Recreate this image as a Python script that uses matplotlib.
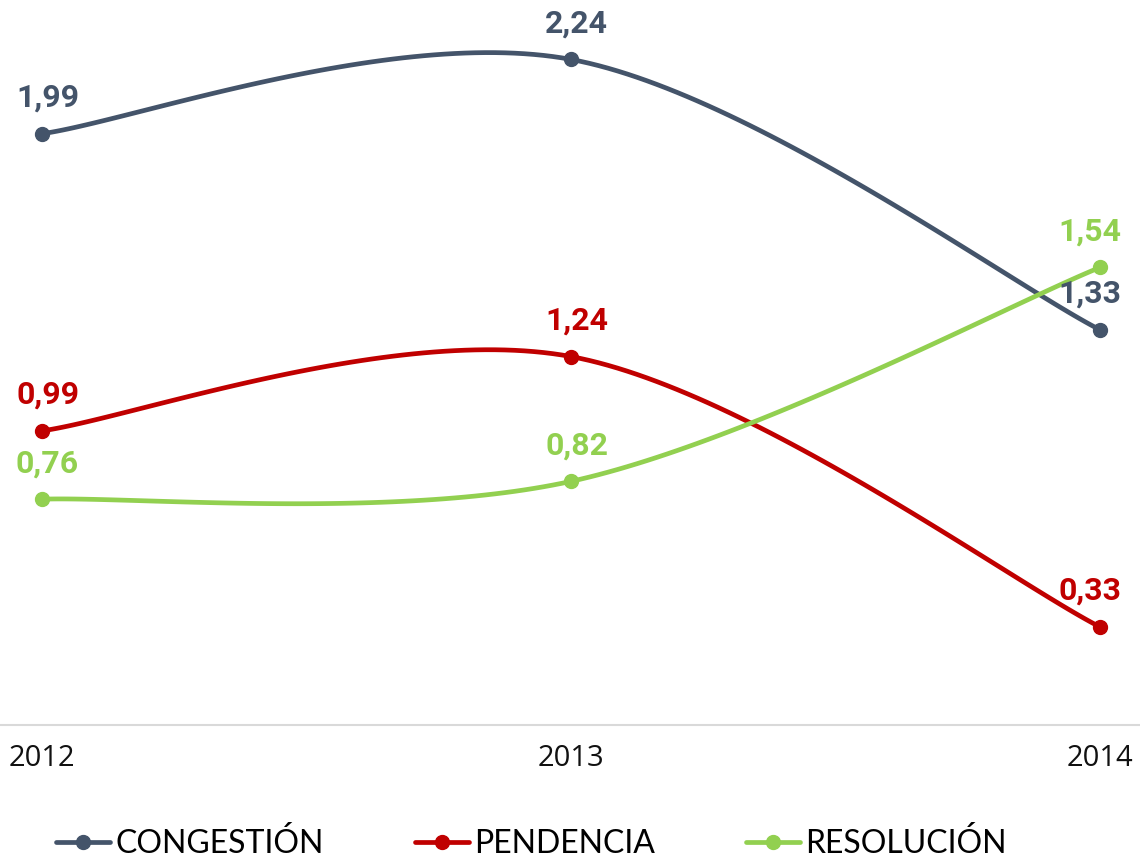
import numpy as np
import matplotlib
matplotlib.use("Agg")
import matplotlib.pyplot as plt

years = ["2012", "2013", "2014"]
congestion = [1.99, 2.24, 1.33]
pendencia = [0.99, 1.24, 0.33]
resolucion = [0.76, 0.82, 1.54]

series = [
    ("CONGESTIÓN", congestion, "#44546A"),
    ("PENDENCIA", pendencia, "#C00000"),
    ("RESOLUCIÓN", resolucion, "#92D050"),
]


# curva suavizada tipo Excel (bezier con puntos de control a 1/6)
def smooth(xs, ys, n=60):
    pts = np.column_stack([xs, ys]).astype(float)
    out = []
    for i in range(len(pts) - 1):
        p0 = pts[max(i - 1, 0)]
        p1 = pts[i]
        p2 = pts[i + 1]
        p3 = pts[min(i + 2, len(pts) - 1)]
        c1 = p1 + (p2 - p0) / 6.0
        c2 = p2 - (p3 - p1) / 6.0
        t = np.linspace(0, 1, n)[:, None]
        seg = ((1 - t) ** 3) * p1 + 3 * ((1 - t) ** 2) * t * c1 + 3 * (1 - t) * t ** 2 * c2 + t ** 3 * p2
        out.append(seg)
    out = np.vstack(out)
    return out[:, 0], out[:, 1]


fig = plt.figure(figsize=(11.4, 8.58), dpi=100)
ax = fig.add_axes([0, 0.155, 1, 0.845])
x = np.arange(len(years))

for name, vals, col in series:
    sx, sy = smooth(x, vals)
    ax.plot(sx, sy, color=col, lw=3.4, solid_capstyle="round", zorder=2)
    ax.plot(x, vals, "o", color=col, ms=10, zorder=3)
    for i, v in enumerate(vals):
        dx = -7 if i == len(vals) - 1 else 4
        ax.annotate(f"{v:.2f}".replace(".", ","), (x[i], v), xytext=(dx, 26),
                    textcoords="offset points", ha="center", va="center",
                    fontsize=23, fontweight="bold", color=col, family="Roboto")

ax.set_xlim(-0.0794, 2.0756)
ax.set_ylim(0, 2.44)
for s in ["top", "right", "left"]:
    ax.spines[s].set_visible(False)
ax.spines["bottom"].set_color("#D9D9D9")
ax.spines["bottom"].set_linewidth(1.5)
ax.set_yticks([])
ax.set_xticks(x)
ax.set_xticklabels(years, fontsize=21, family="Open Sans", color="#111111")
ax.tick_params(axis="x", length=0, pad=14)

handles = [plt.Line2D([], [], color=c, lw=3.4, marker="o", ms=10, solid_capstyle="round") for _, _, c in series]
fig.legend(handles, [n for n, _, _ in series], loc="center", bbox_to_anchor=(0.466, 0.017),
           ncol=3, frameon=False, handlelength=1.7, handletextpad=0.15, columnspacing=2.85,
           prop={"family": "Lato", "size": 23})

fig.savefig("out.png", dpi=100)
